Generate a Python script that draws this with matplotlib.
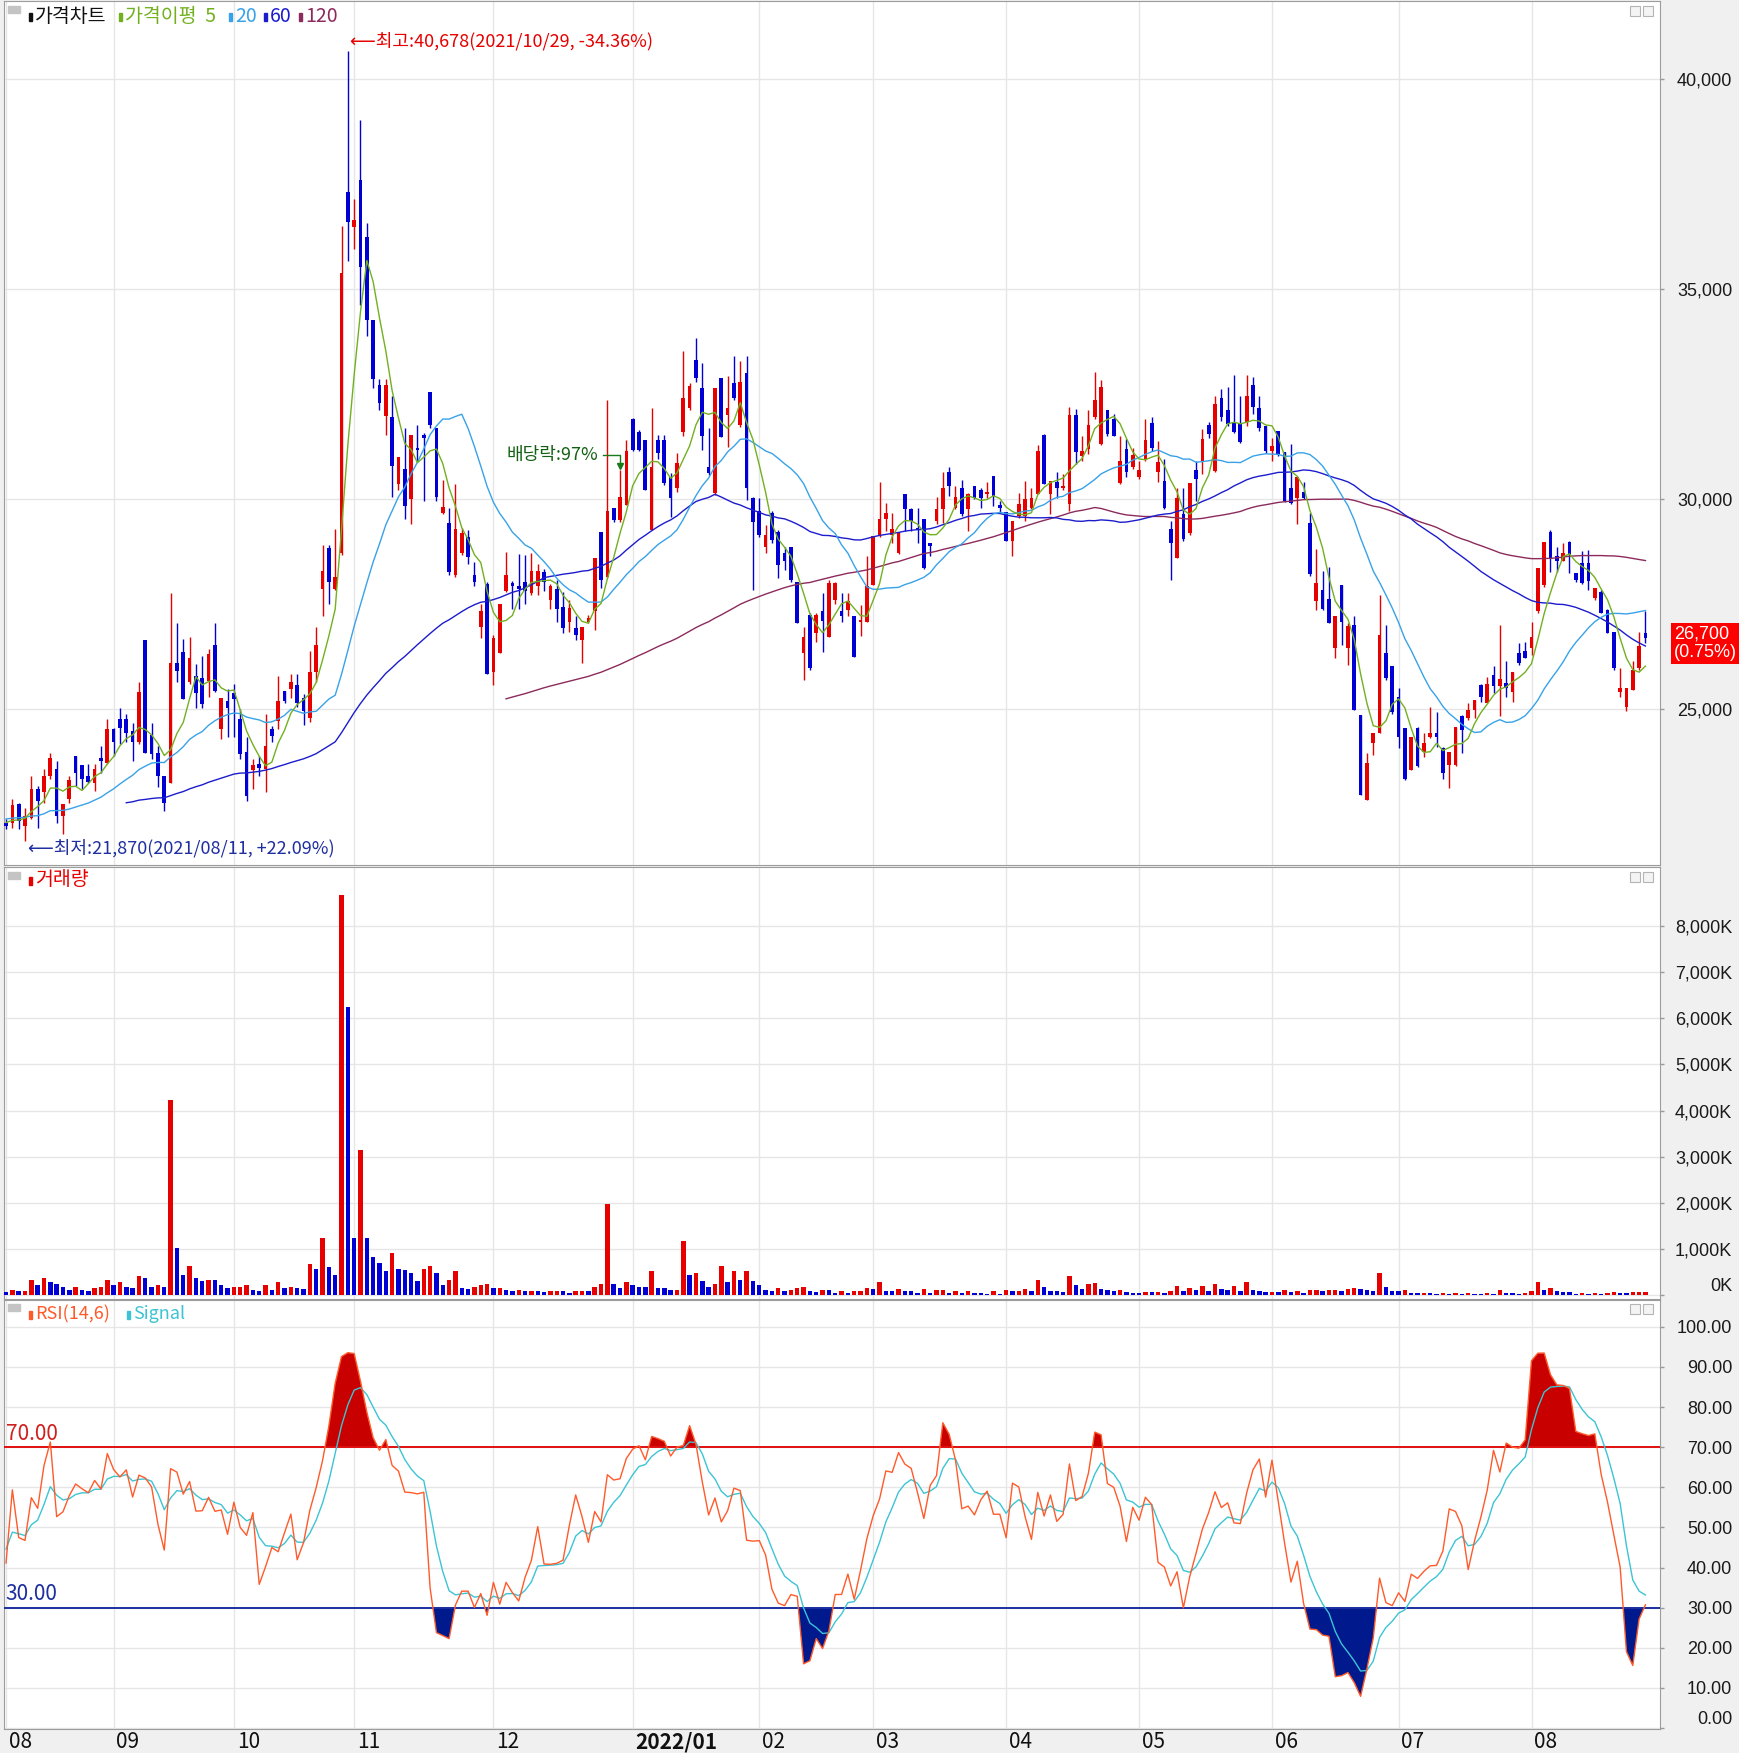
import numpy as np
import pandas as pd
import matplotlib
matplotlib.use("Agg")
import matplotlib.pyplot as plt
from matplotlib.patches import Rectangle

plt.rcParams['font.family'] = ['Liberation Sans Narrow', 'Noto Sans CJK KR', 'DejaVu Sans']

# daily candles 2021/08/06 ~ 2022/08/26
opens = [
    22300, 22300, 22750, 22220, 22420, 23100, 23020, 23410, 23590, 22460,
    22860, 23900, 23670, 23410, 23250, 23850, 23730, 24520, 24780, 24780,
    24480, 24210, 26640, 24380, 23950, 23410, 23250, 26110, 26370, 25640,
    25790, 25750, 25680, 26520, 24520, 25200, 25400, 24760, 23980, 23560,
    23700, 23570, 24520, 24720, 25440, 25480, 25590, 25270, 24800, 25900,
    27870, 28830, 27870, 28720, 37310, 36490, 37610, 36250, 34260, 32710,
    31990, 31970, 30370, 30710, 30000, 31220, 31520, 32550, 31700, 29680,
    29440, 28190, 28720, 29100, 28190, 26970, 27980, 25900, 26330, 27820,
    28010, 27930, 28030, 27770, 27930, 28270, 27610, 27870, 27440, 27090,
    26930, 26650, 27090, 27330, 29230, 28160, 29790, 29510, 29870, 31910,
    31610, 31410, 29270, 31410, 31410, 30540, 30260, 31610, 32170, 33320,
    32640, 30780, 30140, 32880, 32010, 32770, 31770, 33000, 30020, 29710,
    28870, 29670, 29230, 28710, 28870, 28020, 26330, 27250, 26810, 27330,
    26730, 27600, 27330, 27370, 27230, 27070, 27090, 27970, 29120, 29520,
    29160, 28730, 30120, 29760, 29320, 29540, 28970, 29480, 29760, 30640,
    29800, 30260, 29760, 30320, 30220, 30120, 30560, 29870, 29700, 29000,
    29600, 29600, 29800, 30120, 31530, 30120, 30410, 30280, 29880, 32010,
    31040, 31190, 31950, 31310, 32130, 31910, 30390, 31190, 30760, 30520,
    30960, 31820, 30640, 30440, 29300, 28610, 29640, 29200, 30700, 30880,
    31770, 30680, 32400, 32130, 31820, 31790, 31830, 32710, 32170, 31740,
    31150, 31630, 31130, 30260, 30040, 30180, 29440, 27570, 27830, 27630,
    26460, 27970, 26460, 27010, 24870, 22830, 24190, 24430, 26340, 26020,
    25300, 24550, 23560, 24550, 23990, 24350, 24430, 24070, 23680, 23680,
    24830, 24790, 24980, 25580, 25160, 25820, 25560, 25620, 25420, 26330,
    26400, 26450, 27330, 27960, 29230, 28640, 28520, 28990, 28240, 28490,
    28490, 27640, 27800, 27370, 26830, 25420, 25060, 25460, 25980, 26820]
highs = [
    22400, 22860, 22780, 22660, 23410, 23180, 23590, 23970, 23770, 22750,
    23410, 23900, 23670, 23690, 23690, 24130, 24780, 24560, 25020, 24880,
    24680, 25640, 26640, 24670, 24130, 23410, 27780, 27060, 26670, 26710,
    26070, 26270, 26430, 27060, 25280, 25480, 25600, 25000, 24330, 23810,
    23890, 24880, 24600, 25790, 25440, 25850, 25850, 25370, 26400, 26970,
    28900, 28900, 29290, 36510, 40678, 37160, 39040, 36570, 34260, 32870,
    32870, 32450, 31010, 31700, 31540, 31760, 31570, 32550, 31700, 30460,
    29790, 30370, 29310, 29260, 28510, 27500, 28030, 26760, 27500, 28750,
    28050, 28690, 28670, 28720, 28460, 28330, 27980, 28090, 27800, 27600,
    27210, 26970, 27250, 28600, 29230, 32370, 29790, 30700, 31410, 31930,
    31650, 31410, 32170, 31530, 31530, 30620, 31110, 33520, 32760, 33830,
    33250, 31690, 32640, 32880, 32940, 33400, 33290, 33400, 30060, 30020,
    29390, 29710, 29270, 28870, 28870, 28020, 26970, 27290, 27290, 27760,
    28080, 28040, 27760, 27770, 27230, 27490, 28650, 29120, 30410, 29920,
    29680, 29220, 30120, 29800, 29800, 29540, 28970, 30060, 30640, 30780,
    30320, 30460, 30140, 30320, 30260, 30400, 30560, 29960, 29700, 29480,
    30140, 30440, 30280, 31290, 31550, 30440, 30640, 30600, 32190, 32150,
    31510, 32130, 33030, 32830, 32130, 32030, 31510, 31430, 31230, 30920,
    31900, 31950, 31390, 30960, 29480, 30280, 30280, 30380, 30920, 31670,
    31830, 32470, 32630, 32670, 32960, 32470, 32960, 32910, 32450, 31740,
    31450, 31630, 31130, 31310, 30560, 30400, 29680, 28810, 28290, 28390,
    27210, 27970, 27050, 27210, 24870, 23970, 24430, 27730, 27010, 26020,
    25500, 24550, 24350, 24590, 24430, 25060, 24940, 24110, 23990, 24590,
    24870, 25160, 25220, 25600, 25780, 26020, 27010, 26140, 25900, 26570,
    26610, 27090, 28360, 28990, 29270, 28870, 28970, 29010, 28240, 28780,
    28790, 27880, 27840, 27380, 26850, 25980, 25500, 26140, 26850, 27330]
lows = [
    22150, 22180, 22140, 21870, 22380, 22180, 22780, 23330, 22300, 22020,
    22780, 23180, 23100, 23250, 23060, 23490, 23690, 23890, 24170, 24210,
    23770, 24170, 23970, 23810, 23140, 22580, 23250, 25640, 25240, 25600,
    25040, 25040, 25300, 25410, 24290, 24330, 24330, 23810, 22820, 23100,
    23410, 23020, 24210, 24520, 25160, 25270, 25050, 24630, 24700, 25640,
    27230, 27500, 27840, 28670, 35670, 35960, 34630, 33880, 32660, 32130,
    31540, 30050, 30210, 29520, 29420, 30900, 29950, 31700, 29950, 29650,
    28190, 28140, 28670, 28460, 27930, 26700, 25850, 25590, 26330, 27800,
    27390, 27390, 27500, 27710, 27710, 27820, 27390, 27070, 26810, 26850,
    26650, 26100, 27050, 26890, 27880, 28120, 29470, 29470, 29870, 31140,
    31140, 30220, 29270, 30960, 30340, 29590, 30180, 31510, 32130, 32800,
    31180, 30580, 30100, 31490, 31250, 32370, 31730, 29980, 27840, 29110,
    28710, 28950, 28120, 28320, 28040, 27050, 25700, 25940, 26610, 26370,
    26730, 27500, 27090, 27210, 26240, 26740, 27090, 27970, 29110, 29240,
    28970, 28690, 29240, 29240, 28970, 28330, 28650, 29400, 29440, 30080,
    29760, 29600, 29240, 30000, 29800, 30040, 29840, 29680, 29000, 28650,
    29560, 29480, 29760, 30120, 30360, 29640, 30040, 30220, 29720, 30840,
    30920, 31080, 31910, 31290, 31510, 31500, 30360, 30520, 30720, 30490,
    30920, 31150, 30400, 29780, 28090, 28610, 29000, 29160, 29960, 30600,
    31470, 30640, 31870, 31750, 31590, 31340, 31750, 32030, 31630, 31100,
    30920, 31040, 29940, 29880, 29400, 30000, 28170, 27370, 27370, 27050,
    26220, 26540, 26060, 24980, 22950, 22830, 23910, 24430, 25700, 24900,
    24070, 23310, 23560, 23620, 23870, 24310, 24110, 23330, 23120, 23650,
    23950, 24750, 24790, 25180, 25140, 25380, 24830, 25300, 25180, 26060,
    26210, 26290, 27290, 27920, 28280, 28280, 28520, 28240, 28040, 27980,
    27840, 27600, 27290, 26810, 25940, 25300, 24970, 25460, 25940, 26590]
closes = [
    22220, 22710, 22340, 22460, 23100, 22820, 23410, 23830, 22460, 22740,
    23320, 23490, 23330, 23270, 23590, 23770, 24520, 24220, 24560, 24440,
    24210, 25410, 23970, 23930, 23410, 22780, 26100, 25910, 25240, 26230,
    25400, 25120, 26310, 25440, 25280, 25020, 25250, 23930, 22940, 23670,
    23610, 24130, 24370, 25200, 25200, 25640, 25160, 24950, 25900, 26540,
    28300, 28030, 28140, 35390, 36600, 36650, 35530, 34260, 32870, 32290,
    32710, 30800, 31010, 29840, 31540, 31170, 31460, 31760, 30050, 29810,
    28270, 29290, 29200, 28620, 28030, 27340, 25850, 26700, 27500, 28190,
    27930, 27870, 27820, 28300, 28300, 28030, 27930, 27390, 26930, 27410,
    26770, 26970, 27170, 28600, 28080, 29710, 29510, 30050, 31160, 31180,
    31180, 30220, 30780, 31100, 30380, 30020, 30860, 32410, 32700, 32880,
    31510, 30620, 32640, 31490, 32170, 32410, 32800, 30260, 29470, 29150,
    29150, 29030, 28440, 28520, 28080, 27050, 26730, 25980, 27250, 27100,
    28000, 28000, 27210, 27570, 26240, 27130, 27930, 29120, 29520, 29670,
    29300, 29220, 29760, 29480, 29280, 28370, 28890, 29780, 30260, 30320,
    30060, 29640, 30120, 30020, 30020, 30180, 30080, 29800, 29000, 29480,
    29880, 30000, 30040, 31150, 30360, 30440, 30260, 30320, 32010, 31120,
    31150, 31770, 32370, 32670, 31550, 31510, 30900, 30640, 31050, 30700,
    31420, 31210, 30880, 29800, 28970, 30020, 29050, 30380, 30480, 31430,
    31550, 32270, 31950, 31790, 31610, 31370, 32450, 32190, 31690, 31150,
    31270, 31080, 29960, 29900, 30520, 30040, 28210, 28010, 27390, 27050,
    27210, 27090, 26980, 24980, 22950, 23710, 24430, 26780, 25740, 24940,
    24350, 23340, 24350, 23640, 24190, 24430, 24350, 23480, 23990, 24590,
    24510, 24980, 25220, 25300, 25600, 25560, 25710, 25500, 25900, 26100,
    26210, 26730, 28360, 28990, 28600, 28520, 28710, 28680, 28080, 28000,
    28060, 27880, 27300, 26810, 25980, 25500, 25500, 25940, 26500, 26700]
# volume in thousands of shares
volumes = [
    70, 120, 90, 95, 340, 230, 380, 290, 250, 190,
    120, 180, 120, 90, 160, 190, 340, 230, 290, 190,
    160, 420, 380, 190, 230, 190, 4230, 1020, 450, 640,
    380, 320, 340, 330, 230, 160, 180, 190, 230, 120,
    90, 230, 120, 290, 160, 190, 160, 150, 680, 570,
    1250, 610, 440, 8670, 6250, 1250, 3150, 1250, 840, 700,
    540, 930, 570, 560, 480, 320, 570, 640, 480, 230,
    340, 540, 160, 150, 190, 230, 240, 160, 170, 120,
    90, 120, 90, 95, 90, 85, 90, 95, 90, 60,
    90, 95, 90, 190, 250, 1990, 250, 160, 290, 230,
    190, 185, 520, 160, 155, 120, 125, 1180, 440, 480,
    320, 190, 250, 640, 290, 520, 340, 520, 320, 230,
    120, 90, 160, 90, 120, 160, 190, 90, 85, 120,
    115, 60, 90, 60, 90, 95, 160, 150, 290, 100,
    90, 150, 100, 90, 60, 150, 60, 120, 125, 60,
    90, 60, 90, 60, 55, 40, 90, 40, 120, 90,
    95, 130, 100, 340, 190, 100, 90, 80, 415, 220,
    140, 250, 260, 150, 120, 90, 110, 70, 60, 55,
    80, 70, 80, 60, 90, 200, 100, 160, 120, 215,
    100, 250, 150, 120, 200, 90, 290, 110, 100, 70,
    80, 70, 110, 80, 90, 50, 110, 120, 100, 110,
    115, 100, 150, 170, 150, 110, 100, 480, 180, 100,
    100, 110, 60, 50, 55, 50, 40, 50, 40, 50,
    40, 50, 40, 40, 50, 40, 110, 60, 50, 40,
    50, 100, 290, 120, 160, 100, 80, 70, 40, 50,
    40, 60, 40, 45, 70, 60, 50, 70, 80, 85]
# closes of the 40 sessions before the window, only to warm up MA / RSI
pre_closes = [
    22800, 23100, 22900, 22650, 22500, 22700, 22950, 22800, 22550, 22400,
    22300, 22450, 22600, 22500, 22350, 22200, 22300, 22550, 22700, 22600,
    22450, 22300, 22150, 22250, 22500, 22650, 22500, 22350, 22450, 22600,
    22700, 22550, 22400, 22300, 22200, 22350, 22450, 22300, 22250, 22300]

month_labels = ['08', '09', '10', '11', '12', '2022/01', '02', '03', '04', '05', '06', '07', '08']
month_starts = [0, 17, 36, 55, 77, 99, 119, 137, 158, 179, 200, 220, 241]
hi_date = '2021/10/29'
lo_date = '2021/08/11'
ex_div_idx = 97
ex_div_text = '배당락:97%'

price_ticks = [25000, 30000, 35000, 40000]
vol_ticks = [0, 1000, 2000, 3000, 4000, 5000, 6000, 7000, 8000]
rsi_ticks = [0, 10, 20, 30, 40, 50, 60, 70, 80, 90, 100]

UP, DN = '#e60000', '#0000d4'
C5, C20, C60, C120 = '#72b020', '#38a2e8', '#1c1ccc', '#8c2a5c'
RSI_C, SIG_C = '#ff5a2a', '#3cc4d4'
GRID = '#e6e6e6'
NUMFONT = ['Liberation Sans', 'DejaVu Sans']

o = np.array(opens, float)
h = np.array(highs, float)
l = np.array(lows, float)
c = np.array(closes, float)
v = np.array(volumes, float)
n = len(c)
x = np.arange(n)
up = c >= o
cols = np.where(up, UP, DN)
vcols = np.where(np.diff(v, prepend=v[0] + 1) > 0, UP, DN)

full = pd.Series(pre_closes + closes, dtype=float)
k = len(pre_closes)
ma = {p: full.rolling(p).mean().to_numpy()[k:] for p in (5, 20, 60, 120)}
# RSI with plain 14-day averages, signal = 6-day EMA of RSI
delta = full.diff()
gain = delta.clip(lower=0).rolling(14).mean()
loss = (-delta.clip(upper=0)).rolling(14).mean()
rsi_s = 100 * gain / (gain + loss)
rsi = rsi_s.to_numpy()[k:]
sig = rsi_s.ewm(span=6, adjust=False).mean().to_numpy()[k:]

W, H = 1740, 1753
fig = plt.figure(figsize=(W / 100, H / 100), dpi=100, facecolor='#f0f0f0')


def box(x0, y0, x1, y1):
    return [x0 / W, 1 - y1 / H, (x1 - x0) / W, (y1 - y0) / H]


ax_p = fig.add_axes(box(4, 1, 1660, 865))
ax_v = fig.add_axes(box(4, 867, 1660, 1299))
ax_r = fig.add_axes(box(4, 1300, 1660, 1729))

ax_p.set_ylim(21293, 41864)
ax_v.set_ylim(-76, 9275)
ax_r.set_ylim(-0.25, 106.7)


def right_ticks(ax, vals, labels):
    ax.yaxis.tick_right()
    ax.set_yticks(vals, labels, fontfamily=NUMFONT, fontsize=13, color='#1a1a1a')
    for t in ax.get_yticklabels():
        t.set_horizontalalignment('right')
    if vals[0] == 0:
        ax.get_yticklabels()[0].set_verticalalignment('bottom')
    ax.tick_params(axis='y', length=3, width=1, color='#9a9a9a', pad=49)
    for val in vals:
        ax.axhline(val, color=GRID, lw=1, zorder=0)


for ax in (ax_p, ax_v, ax_r):
    ax.set_xlim(-0.32, 261.3)
    ax.set_facecolor('white')
    ax.set_xticks([])
    for s in ax.spines.values():
        s.set_color('#9c9c9c')
    for m in month_starts:
        ax.axvline(m, color=GRID, lw=1, zorder=0)

right_ticks(ax_p, price_ticks, [f'{t:,}' for t in price_ticks])
right_ticks(ax_v, vol_ticks, [f'{t:,}K' for t in vol_ticks])
right_ticks(ax_r, rsi_ticks, [f'{t:.2f}' for t in rsi_ticks])

# candles
ax_p.vlines(x, l, h, colors=cols, lw=1.0, zorder=2)
ax_p.bar(x, np.maximum(np.abs(c - o), 30), bottom=np.minimum(o, c), width=0.58,
         color=cols, lw=0, zorder=3)
ax_p.plot(x, ma[120], color=C120, lw=1.0, zorder=4)
ax_p.plot(x, ma[60], color=C60, lw=1.0, zorder=4)
ax_p.plot(x, ma[20], color=C20, lw=1.0, zorder=4)
ax_p.plot(x, ma[5], color=C5, lw=1.0, zorder=4)

# high / low notes
last = c[-1]
i_hi, i_lo = int(np.argmax(h)), int(np.argmin(l))
ax_p.annotate(f'⟵최고:{h[i_hi]:,.0f}({hi_date}, {(last / h[i_hi] - 1) * 100:+.2f}%)',
              xy=(i_hi, h[i_hi]), xytext=(2, 10), textcoords='offset pixels',
              ha='left', va='center', color=UP, fontsize=13, zorder=6)
ax_p.annotate(f'⟵최저:{l[i_lo]:,.0f}({lo_date}, {(last / l[i_lo] - 1) * 100:+.2f}%)',
              xy=(i_lo, l[i_lo]), xytext=(3, -7), textcoords='offset pixels',
              ha='left', va='center', color='#1f2fa0', fontsize=13, zorder=6)

# ex-dividend mark
tip = h[ex_div_idx] + 60
yb = tip + 300
ax_p.plot([ex_div_idx - 2.7, ex_div_idx, ex_div_idx], [yb, yb, tip + 60], color='#1a7a1a', lw=1, zorder=6)
ax_p.plot(ex_div_idx, tip + 40, marker='v', ms=4, color='#1a7a1a', zorder=6)
ax_p.text(ex_div_idx - 3.4, yb, ex_div_text, ha='right', va='center', color='#126012', fontsize=13, zorder=6)

# last price box
chg = (c[-1] / c[-2] - 1) * 100
ax_p.annotate(f'{last:,.0f}\n({chg:.2f}%)', xy=(1, last), xycoords=ax_p.get_yaxis_transform(),
              xytext=(14, 12), textcoords='offset pixels', ha='left', va='top', color='white',
              fontsize=13, fontfamily=NUMFONT, linespacing=1.1, annotation_clip=False,
              bbox=dict(boxstyle='square,pad=0.15', fc='#ff0000', ec='none'))

# volume
ax_v.bar(x, v, width=0.7, color=vcols, lw=0, zorder=3)

# RSI
ax_r.axhline(70, color='#e01010', lw=1.4, zorder=3)
ax_r.axhline(30, color='#1c2ea0', lw=1.4, zorder=3)
ax_r.fill_between(x, rsi, 70, where=rsi > 70, interpolate=True, color='#c80000', lw=0, zorder=2)
ax_r.fill_between(x, rsi, 30, where=rsi < 30, interpolate=True, color='#001a8e', lw=0, zorder=2)
ax_r.plot(x, sig, color=SIG_C, lw=1.0, zorder=4)
ax_r.plot(x, rsi, color=RSI_C, lw=1.0, zorder=5)
ax_r.text(0.001, 70.6, '70.00', transform=ax_r.get_yaxis_transform(), ha='left', va='bottom',
          color='#d02020', fontsize=15)
ax_r.text(0.001, 30.6, '30.00', transform=ax_r.get_yaxis_transform(), ha='left', va='bottom',
          color='#1c2ea0', fontsize=15)

for m, lab in zip(month_starts, month_labels):
    ax_r.text(m + 0.45, -0.031, lab, transform=ax_r.get_xaxis_transform(), ha='left', va='center',
              fontsize=15, fontweight='bold' if '/' in lab else 'normal', color='#111111')


# panel headers
def ftext(xp, yp, s, color, size=13):
    fig.text(xp / W, 1 - yp / H, s, ha='left', va='center', color=color, fontsize=size)


def fmark(xp, yp, color):
    fig.add_artist(Rectangle((xp / W, 1 - (yp + 4) / H), 3 / W, 8 / H,
                             transform=fig.transFigure, color=color, zorder=6))


def corner(yp):
    fig.add_artist(Rectangle((8 / W, 1 - (yp + 7) / H), 12 / W, 7 / H,
                             transform=fig.transFigure, color='#c4c4c4', zorder=6))
    for xp in (1630, 1643):
        fig.add_artist(Rectangle((xp / W, 1 - (yp + 10) / H), 10 / W, 10 / H, transform=fig.transFigure,
                                 fc='#f4f4f4', ec='#b4b4b4', lw=0.8, zorder=6))


corner(6)
fmark(29, 17, '#111111'); ftext(35, 16, '가격차트', '#111111', 14)
fmark(119, 17, C5); ftext(125, 16, '가격이평  5', C5, 14)
fmark(229, 17, C20); ftext(235, 16, '20', C20, 14)
fmark(264, 17, C60); ftext(270, 16, '60', C60, 14)
fmark(299, 17, C120); ftext(305, 16, '120', C120, 14)

corner(872)
fmark(29, 881, UP); ftext(35, 880, '거래량', UP, 14)

corner(1304)
fmark(29, 1315, RSI_C); ftext(35, 1314, 'RSI(14,6)', RSI_C)
fmark(127, 1315, SIG_C); ftext(133, 1314, 'Signal', SIG_C)

fig.savefig('out.png', dpi=100, facecolor=fig.get_facecolor())
